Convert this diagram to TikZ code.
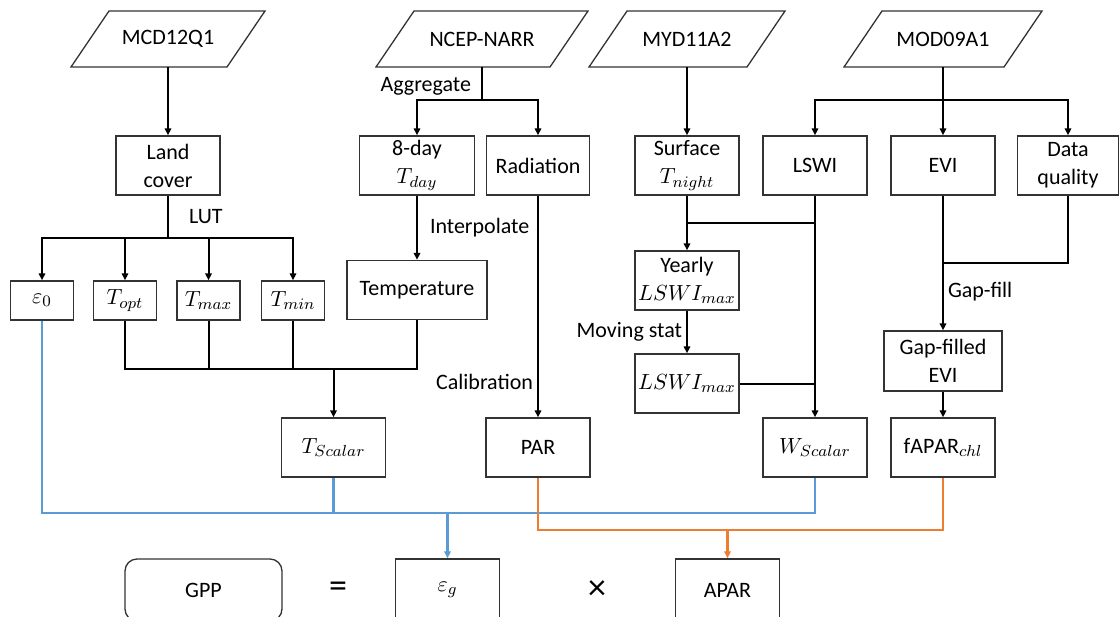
\documentclass[tikz,border=0pt]{standalone}
\usepackage{amsmath}
\usepackage{fontspec}
\setmainfont{Carlito}
\usetikzlibrary{positioning,arrows.meta}

\definecolor{lineblue}{RGB}{91,155,213}
\definecolor{lineorange}{RGB}{237,125,49}

\tikzset{
  src/.style = {minimum width=77pt, minimum height=27pt, inner sep=0pt},
  box/.style = {draw=black!80, line width=0.65pt, align=center, minimum height=29.5pt, minimum width=52pt, inner sep=1pt},
  small/.style = {box, minimum width=31.5pt, minimum height=19.5pt},
  lbl/.style = {inner sep=2pt},
  op/.style = {font=\fontsize{18}{18}\selectfont},
  blueline/.style = {line width=1.25pt, color=lineblue},
  orangeline/.style = {line width=1.25pt, color=lineorange}
}

\begin{document}
\begin{tikzpicture}[x=0.5pt, y=-0.5pt, font=\fontsize{11}{14}\selectfont, line width=1pt, >={Triangle[length=3.5pt,width=3.2pt]}]
    \useasboundingbox (0,0) rectangle (1119,616);

    \node[src] (MCD) at (168,39) {MCD12Q1};
    \node[src, minimum width=86pt] (NCEP) at (482,39) {NCEP-NARR};
    \node[src, minimum width=78pt] (MYD) at (687,39) {MYD11A2};
    \node[src, minimum width=79pt] (MOD) at (943,39) {MOD09A1};
    \foreach \n in {MCD,NCEP,MYD,MOD}
        \draw [draw=black!80, line width=0.65pt] ([xshift=-9.5pt]\n.south west) -- ([xshift=-9.5pt]\n.south east)
            -- ([xshift=9.5pt]\n.north east) -- ([xshift=9.5pt]\n.north west) -- cycle;

    \node[box] (land) at (168,165.5) {Land\\cover};
    \node[box, minimum width=57.5pt] (tday) at (417,165.5) {8-day\\$T_{day}$};
    \node[box, minimum width=51.5pt] (rad) at (538,165.5) {Radiation};
    \node[box] (surf) at (687,165.5) {Surface\\$T_{night}$};
    \node[box] (lswi) at (815,165.5) {LSWI};
    \node[box] (evi) at (943,165.5) {EVI};
    \node[box, minimum width=50.5pt] (dq) at (1068,165.5) {Data\\quality};

    \node[small] (eps0) at (42,300.5) {$\varepsilon_0$};
    \node[small] (topt) at (125,300.5) {$T_{opt}$};
    \node[small] (tmax) at (208.5,300.5) {$T_{max}$};
    \node[small] (tmin) at (293,300.5) {$T_{min}$};
    \node[box, minimum width=70pt] (temp) at (417,290) {Temperature};
    \node[box] (yearly) at (687,280.5) {Yearly\\$LSWI_{max}$};
    \node[box] (lswimax) at (687,383.5) {$LSWI_{max}$};
    \node[box, minimum width=59pt, minimum height=30pt] (gevi) at (943,361) {Gap-filled\\EVI};

    \node[box] (tsc) at (333.5,447.5) {$T_{Scalar}$};
    \node[box] (par) at (538,447.5) {PAR};
    \node[box] (wsc) at (815,447.5) {$W_{Scalar}$};
    \node[box] (fapar) at (943,447.5) {$\mathrm{fAPAR}_{chl}$};

    \node[box, rounded corners=6pt, minimum width=78.5pt, minimum height=31pt] (gpp) at (203.5,590) {GPP};
    \node[op] (eq) at (338,590) {=};
    \node[box, minimum height=31pt] (epsg) at (447.5,590) {$\varepsilon_g$};
    \node[op] (times) at (597,590) {×};
    \node[box, minimum height=31pt] (apar) at (727.5,590) {APAR};

    \coordinate (ncepj) at (482,100);
    \coordinate (modj) at (943,100);
    \coordinate (lutj) at (168,238);
    \coordinate (tj) at (333.5,369);
    \coordinate (yj) at (687,223);
    \coordinate (gj) at (943,263);
    \coordinate (bj) at (447.5,513);
    \coordinate (oj) at (727.5,530);

    \draw [->] (MCD) -- (land);
    \draw (NCEP) -- node[lbl, left, xshift=-3pt, pos=0.6] {Aggregate} (ncepj);
    \draw [->] (ncepj) -| (tday);
    \draw [->] (ncepj) -| (rad);
    \draw [->] (MYD) -- (surf);
    \draw (MOD) -- (modj);
    \draw [->] (modj) -| (lswi);
    \draw [->] (modj) -- (evi);
    \draw [->] (modj) -| (dq);

    \draw (land) -- node[lbl, right, xshift=8pt] {LUT} (lutj);
    \foreach \n in {eps0,topt,tmax,tmin}
        \draw [->] (lutj) -| (\n);
    \draw [->] (tday) -- node[lbl, right, xshift=4pt] {Interpolate} (temp);
    \foreach \n in {topt,tmax,tmin,temp}
        \draw (\n) |- (tj);
    \draw [->] (tj) -- (tsc);
    \draw [->] (rad) -- node[lbl, left, pos=0.84] {Calibration} (par);

    \draw [->] (surf) -- (yearly);
    \draw (yj -| lswi) -- (yj);
    \draw [->] (yearly) -- node[lbl, left] {Moving stat} (lswimax);
    \draw [->] (lswi) -- (wsc);
    \draw (lswimax) -- (lswimax -| wsc);
    \draw [->] (evi) -- node[lbl, right, pos=0.71] {Gap-fill} (gevi);
    \draw (dq) |- (gj);
    \draw [->] (gevi) -- (fapar);

    \draw [blueline] (eps0) |- (bj) -| (wsc);
    \draw [blueline] (tsc) -- (tsc |- bj);
    \draw [blueline, ->] (bj) -- (epsg);
    \draw [orangeline] (par) |- (oj) -| (fapar);
    \draw [orangeline, ->] (oj) -- (apar);
\end{tikzpicture}
\end{document}
